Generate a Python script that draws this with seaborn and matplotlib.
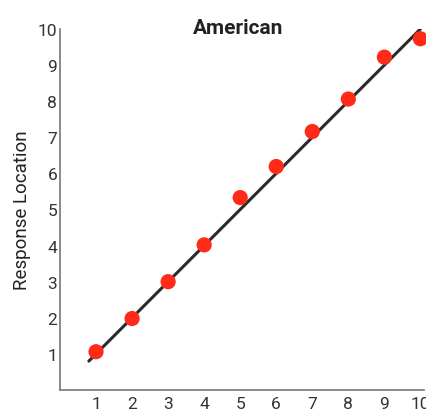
import matplotlib
matplotlib.use("Agg")
import matplotlib.pyplot as plt
import seaborn as sns
import pandas as pd

stimulus = [1, 2, 3, 4, 5, 6, 7, 8, 9, 10]
response = [1.06, 1.98, 3.0, 4.02, 5.33, 6.19, 7.16, 8.06, 9.22, 9.73]
line_x = [0.8, 10]
line_y = [0.8, 10]
xticks = [1, 2, 3, 4, 5, 6, 7, 8, 9, 10]
yticks = [1, 2, 3, 4, 5, 6, 7, 8, 9, 10]
title = "American"
ylabel = "Response Location"

sns.set_style("white")
plt.rcParams['font.family'] = ['Roboto', 'DejaVu Sans']

df = pd.DataFrame({"x": stimulus, "y": response})
ldf = pd.DataFrame({"x": line_x, "y": line_y})

fig = plt.figure(figsize=(4.26, 4.14), dpi=100)
ax = fig.add_axes([60/426, 1-391/414, 364/426, 361/414])

sns.lineplot(data=ldf, x="x", y="y", ax=ax, color="#2b2b2b", linewidth=2.2, zorder=2)
sns.scatterplot(data=df, x="x", y="y", ax=ax, color="#ff2a17", s=120, edgecolor="none", zorder=3, clip_on=False)

ax.set_xlim(0, 10.1)
ax.set_ylim(0, 10)
ax.set_xticks(xticks)
ax.set_yticks(yticks)
ax.set_xticklabels([str(v) for v in xticks])
ax.set_yticklabels([str(v) for v in yticks])
ax.tick_params(direction="in", length=5, width=1, color="#666666", labelsize=12.5, labelcolor="#333333")
ax.tick_params(axis="x", pad=4)
ax.tick_params(axis="y", pad=2)
for s in ["top", "right"]:
    ax.spines[s].set_visible(False)
for s in ["left", "bottom"]:
    ax.spines[s].set_color("#777777")
    ax.spines[s].set_linewidth(1.2)
ax.set_xlabel("")
ax.set_ylabel(ylabel, fontsize=13.5, color="#222222", labelpad=5)
ax.set_title(title, fontsize=15, fontweight="bold", color="#222222", pad=-3, x=0.49)

fig.savefig("out.png", dpi=100)
